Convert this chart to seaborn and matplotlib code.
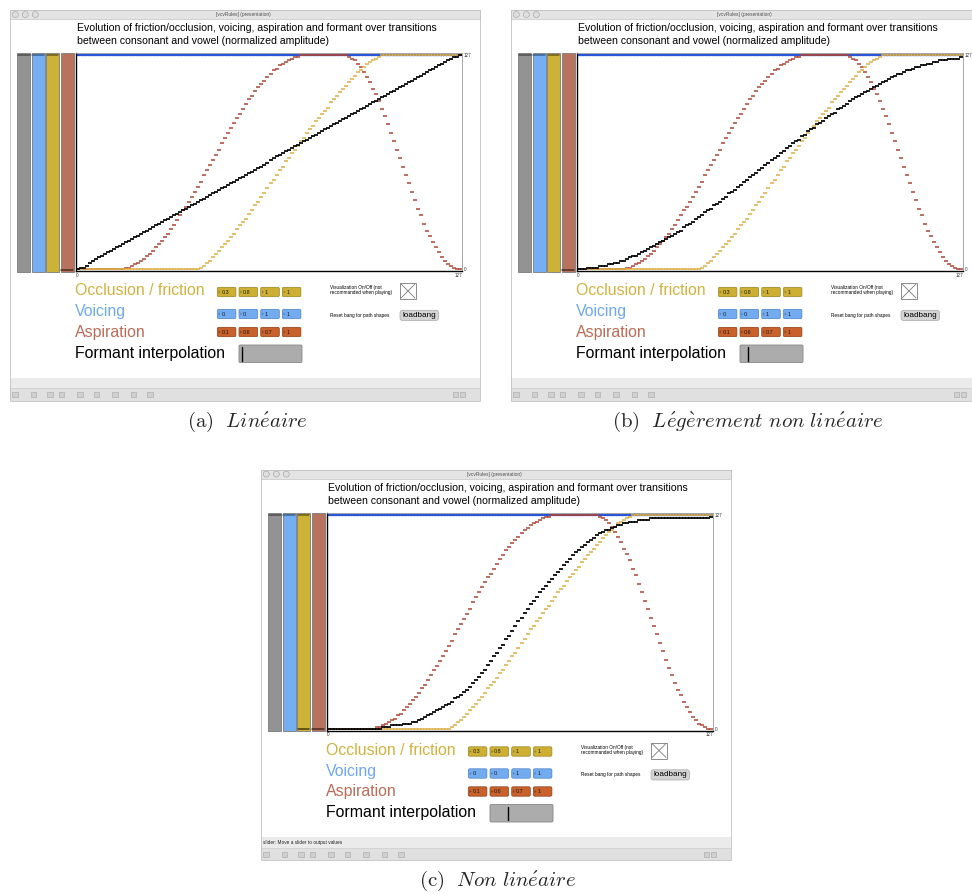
import matplotlib
matplotlib.use("Agg")
import matplotlib.pyplot as plt
from matplotlib.patches import Rectangle, FancyBboxPatch, Circle, Polygon
import pandas as pd
import seaborn as sns

W, H = 972, 894

# multislider index (128 sliders, values 0..127)
STEPS = list(range(128))

OCCLUSION = [
    0, 0, 0, 0, 0, 0, 0, 0, 0, 0, 0, 0, 0, 0, 0, 0,
    0, 0, 0, 0, 0, 0, 0, 0, 0, 0, 0, 0, 0, 0, 0, 0,
    0, 0, 0, 0, 0, 0, 0, 0, 0, 1, 2, 4, 5, 7, 9, 11,
    13, 15, 17, 19, 21, 24, 26, 28, 30, 33, 35, 38, 40, 43, 45, 48,
    51, 53, 56, 59, 61, 64, 66, 69, 71, 73, 76, 78, 81, 83, 85, 88,
    90, 92, 94, 96, 99, 101, 103, 105, 107, 109, 111, 113, 115, 117, 118, 120,
    122, 123, 124, 125, 126, 127, 127, 127, 127, 127, 127, 127, 127, 127, 127, 127,
    127, 127, 127, 127, 127, 127, 127, 127, 127, 127, 127, 127, 127, 127, 127, 127,
]

VOICING = [127] * 128

ASPIRATION = [
    0, 0, 0, 0, 0, 0, 0, 0, 0, 0, 0, 0, 0, 0, 0, 0,
    1, 1, 2, 3, 4, 5, 6, 8, 9, 11, 13, 15, 17, 19, 21, 24,
    26, 29, 32, 35, 37, 40, 43, 46, 49, 52, 56, 59, 62, 65, 68, 71,
    75, 78, 81, 84, 87, 90, 92, 95, 98, 101, 103, 106, 108, 110, 112, 114,
    116, 118, 119, 121, 122, 123, 124, 125, 126, 126, 127, 127, 127, 127, 127, 127,
    127, 127, 127, 127, 127, 127, 127, 127, 127, 127, 126, 125, 124, 122, 120, 117,
    114, 111, 107, 104, 100, 95, 91, 86, 81, 76, 71, 66, 61, 56, 51, 46,
    41, 36, 32, 27, 23, 20, 16, 13, 10, 7, 5, 3, 2, 1, 0, 0,
]

FORMANT_LINEAR = [
    0, 1, 1, 2, 4, 5, 6, 7, 8, 9, 10, 11, 12, 13, 14, 15,
    16, 17, 18, 19, 20, 21, 22, 23, 24, 25, 26, 27, 28, 29, 30, 31,
    32, 33, 34, 35, 36, 37, 38, 39, 40, 41, 42, 43, 44, 45, 46, 47,
    48, 49, 50, 51, 52, 53, 54, 55, 56, 57, 58, 59, 60, 61, 62, 63,
    65, 66, 67, 68, 69, 70, 71, 72, 73, 74, 75, 76, 77, 78, 79, 80,
    81, 82, 83, 84, 85, 86, 87, 88, 89, 90, 91, 92, 93, 94, 95, 96,
    97, 98, 99, 100, 101, 102, 103, 104, 105, 106, 107, 108, 109, 110, 111, 112,
    113, 114, 115, 116, 117, 118, 119, 120, 121, 122, 123, 124, 125, 126, 126, 127,
]

FORMANT_SLIGHT = [
    0, 0, 0, 1, 1, 1, 1, 2, 2, 2, 3, 3, 4, 4, 5, 5,
    6, 7, 8, 8, 9, 10, 11, 12, 13, 14, 15, 16, 17, 18, 19, 20,
    21, 22, 23, 25, 26, 27, 28, 30, 31, 32, 34, 35, 36, 38, 39, 40,
    42, 43, 45, 46, 47, 49, 50, 52, 53, 55, 56, 57, 59, 60, 62, 63,
    65, 66, 67, 69, 70, 72, 73, 75, 76, 77, 79, 80, 82, 83, 84, 86,
    87, 88, 90, 91, 92, 93, 95, 96, 97, 98, 100, 101, 102, 103, 104, 105,
    106, 107, 108, 109, 110, 111, 112, 113, 114, 115, 116, 116, 117, 118, 118, 119,
    120, 120, 121, 121, 122, 122, 123, 123, 124, 124, 124, 125, 125, 125, 125, 126,
]

FORMANT_NONLINEAR = [
    0, 0, 0, 0, 0, 0, 0, 0, 0, 0, 0, 0, 0, 0, 0, 0,
    0, 0, 1, 1, 1, 2, 2, 2, 2, 3, 3, 3, 4, 4, 5, 6,
    7, 8, 9, 10, 11, 12, 13, 14, 15, 16, 18, 19, 20, 22, 23, 25,
    27, 29, 31, 33, 35, 38, 40, 43, 45, 48, 50, 53, 55, 58, 61, 64,
    66, 69, 71, 74, 76, 78, 81, 83, 85, 87, 89, 91, 93, 95, 97, 99,
    101, 103, 105, 106, 108, 109, 111, 112, 113, 115, 116, 117, 118, 118, 119, 120,
    121, 121, 122, 122, 123, 123, 123, 124, 124, 124, 124, 125, 125, 125, 125, 125,
    125, 125, 125, 125, 125, 125, 125, 125, 125, 125, 125, 125, 125, 125, 125, 126,
]

PANEL_TAGS = ["a", "b", "c"]
PANEL_NAMES = ["Linéaire", "Légèrement non linéaire", "Non linéaire"]
FORMANTS = [FORMANT_LINEAR, FORMANT_SLIGHT, FORMANT_NONLINEAR]
FORMANT_SLIDER = [0.04, 0.12, 0.29]

TITLE_1 = "Evolution of friction/occlusion, voicing, aspiration and formant over transitions"
TITLE_2 = "between consonant and vowel (normalized amplitude)"
ROW_LABELS = ["Occlusion / friction", "Voicing", "Aspiration", "Formant interpolation"]
OCC_BOXES = ["0.3", "0.8", "1.", "1."]
VOI_BOXES = ["0.", "0.", "1.", "1."]
ASP_BOXES = ["0.1", "0.6", "0.7", "1."]

# colours
BLUE_LINE = "#2b55d8"
RED_LINE = "#b04434"
YEL_LINE = "#dcae45"
BAR_COLS = ["#939393", "#76aef4", "#ccb236", "#b9725d"]
TXT_COLS = ["#d2b23e", "#6ea9f0", "#bd6b55", "black"]
BOX_COLS = [("#cdb033", "#9a8420"), ("#73abf1", "#4d82c6"), ("#c8612b", "#8d4019")]

sns.set_style("white")
plt.rcParams["font.family"] = ["Liberation Sans", "DejaVu Sans"]
plt.rcParams["mathtext.fontset"] = "cm"

fig = plt.figure(figsize=(W / 100, H / 100), dpi=100)
bg = fig.add_axes([0, 0, 1, 1], zorder=0)
bg.set_xlim(0, W)
bg.set_ylim(H, 0)
bg.axis("off")

# panel offsets in pixels (window chrome is laid out in local coords)
OFFSETS = [(0, 0), (501, 0), (251, 459.5)]


def caption(tag, name):
    word = name.replace("é", r"\acute{e}").replace("è", r"\grave{e}").replace(" ", r"\ ")
    return r"$\mathrm{(" + tag + r")}\ \ \mathit{" + word + "}$"


def draw_window(dx, dy, slider_pos, tag, name, status=None):
    def rect(x0, y0, x1, y1, fc, ec="none", lw=0.5, z=1):
        bg.add_patch(Rectangle((x0 + dx, y0 + dy), x1 - x0, y1 - y0,
                               facecolor=fc, edgecolor=ec, linewidth=lw, zorder=z))

    def rbox(x0, y0, x1, y1, fc, ec, lw=0.5, r=1.5, z=2):
        bg.add_patch(FancyBboxPatch((x0 + dx, y0 + dy), x1 - x0, y1 - y0,
                                    boxstyle=f"round,pad=0,rounding_size={r}",
                                    facecolor=fc, edgecolor=ec, linewidth=lw, zorder=z))

    def txt(x, y, s, size, color="black", **kw):
        bg.text(x + dx, y + dy, s, fontsize=size, color=color, va="center", ha="left", zorder=4, **kw)

    # window body + title bar
    rect(10, 10, 480, 400.5, "white", z=0.5)
    rect(10, 10, 480, 19, "#e4e4e4", "#b8b8b8", 0.4)
    for cx in (15.3, 25.3, 35.3):
        bg.add_patch(Circle((cx + dx, 14.6 + dy), 3, facecolor="#dedede",
                            edgecolor="#a0a0a0", linewidth=0.4, zorder=2))
    bg.text(243 + dx, 14.8 + dy, "[vcvRules] (presentation)", fontsize=3.5,
            color="#505050", ha="center", va="center", zorder=4)

    txt(77, 28.3, TITLE_1, 7.6)
    txt(77, 41, TITLE_2, 7.6)

    # level sliders on the left
    for x0, col in zip((17.3, 31.7, 46, 60.7), BAR_COLS):
        rect(x0, 53.3, x0 + 12.8, 271.7, col, "#7a7a7a", 0.6, z=1)
    for x0, y0, col in ((17.3, 55.2, "#4f4f4f"), (31.7, 55.2, "#3c5f8a"), (46, 55.2, "#6b5b1c"),
                        (60.7, 269.5, "#4a2b21")):
        bg.plot([x0 + dx + 0.6, x0 + dx + 12.2], [y0 + dy, y0 + dy], color=col, lw=1.1, zorder=3)
    if tag == "c":
        bg.plot([46 + dx + 0.6, 46 + dx + 12.2], [269.5 + dy, 269.5 + dy], color="#4a3b10", lw=1.1, zorder=3)

    # control rows
    for lbl, y, col in zip(ROW_LABELS, (290.7, 311.7, 332.3, 353.3), TXT_COLS):
        txt(75, y, lbl, 11.4, col)
    for vals, y0, (fc, ec) in zip((OCC_BOXES, VOI_BOXES, ASP_BOXES), (287.3, 309.3, 327.3), BOX_COLS):
        for x0, v in zip((217.3, 239, 260.7, 282.3), vals):
            rbox(x0, y0, x0 + 18.6, y0 + 9.4, fc, ec)
            bg.add_patch(Polygon([(x0 + dx + 1.3, y0 + dy + 3), (x0 + dx + 1.3, y0 + dy + 6.4),
                                  (x0 + dx + 3.2, y0 + dy + 4.7)], closed=True,
                                 facecolor=ec, edgecolor="none", zorder=3))
            txt(x0 + 4.2, y0 + 4.9, v, 3.9, "#1a1a1a")
    rbox(239, 345, 302, 362.5, "#acacac", "#878787", lw=0.6, r=1.2)
    sx = 239 + 63 * slider_pos
    bg.plot([sx + dx, sx + dx], [347 + dy, 360.5 + dy], color="black", lw=1.0, zorder=3)

    # right widgets
    txt(330, 287.7, "Visualization On/Off (not", 3.4)
    txt(330, 292.7, "recommanded when playing)", 3.4)
    rect(400, 283, 416, 299, "white", "#7a7a7a", 0.6, z=2)
    bg.plot([401 + dx, 415 + dx], [284 + dy, 298 + dy], color="#7a7a7a", lw=0.6, zorder=3)
    bg.plot([401 + dx, 415 + dx], [298 + dy, 284 + dy], color="#7a7a7a", lw=0.6, zorder=3)
    txt(330, 315.3, "Reset bang for path shapes", 3.4)
    rbox(400, 310.3, 438.5, 320.5, "#d4d4d4", "#a9a9a9", r=2.5)
    txt(402, 315.4, "loadbang", 5.9)

    # status / toolbar band
    rect(10, 377.5, 480, 388, "#ebebeb", z=1)
    rect(10, 388, 480, 400.5, "#e0e0e0", z=1)
    bg.plot([10 + dx, 480 + dx], [388 + dy, 388 + dy], color="#cfcfcf", lw=0.5, zorder=2)
    for ix in (15, 33.3, 50, 61.7, 80, 96.7, 115, 133.3, 150, 455.5, 462.5):
        rect(ix - 2.6, 392.2, ix + 2.6, 397.4, "#d0d0d0", "#a6a6a6", 0.4, z=2)
    if status:
        txt(12, 383.2, status, 3.4, "#222222")
    rect(10, 10, 480, 400.5, "none", "#c2c2c2", 0.6, z=3)

    bg.text(247 + dx, 421.5 + dy, caption(tag, name), fontsize=15,
            ha="center", va="center", zorder=4)


def draw_curves(ax, formant):
    df = pd.DataFrame({"step": STEPS, "voicing": VOICING, "aspiration": ASPIRATION,
                       "occlusion": OCCLUSION, "formant": formant})
    for col, color, lw in (("voicing", BLUE_LINE, 1.6), ("aspiration", RED_LINE, 1.1),
                           ("occlusion", YEL_LINE, 1.1), ("formant", "black", 1.25)):
        sns.scatterplot(data=df, x="step", y=col, marker="_", s=4.8, linewidth=lw,
                        color=color, ax=ax, legend=False)
    ax.set_xlim(-0.5, 127.5)
    ax.set_ylim(-1.2, 128.2)
    ax.set(xlabel="", ylabel="")
    ax.set_xticks([-0.5, 127.5], ["0", "127"])
    for lbl, ha in zip(ax.get_xticklabels(), ("left", "right")):
        lbl.set_horizontalalignment(ha)
    ax.yaxis.tick_right()
    ax.set_yticks([0, 127], ["0", "127"])
    ax.tick_params(length=0, labelsize=3.3, colors="#333333", pad=1.2)
    for side in ("left", "bottom"):
        ax.spines[side].set_color("black")
        ax.spines[side].set_linewidth(1.0)
    for side in ("right", "top"):
        ax.spines[side].set_color("#9a9a9a")
        ax.spines[side].set_linewidth(0.6)
    ax.set_facecolor("white")


for (dx, dy), tag, name, formant, pos in zip(OFFSETS, PANEL_TAGS, PANEL_NAMES, FORMANTS, FORMANT_SLIDER):
    status = "slider: Move a slider to output values" if tag == "c" else None
    draw_window(dx, dy, pos, tag, name, status)
    ax = fig.add_axes([(76 + dx) / W, 1 - (271.3 + dy) / H, 386 / W, 218 / H], zorder=2)
    draw_curves(ax, formant)

fig.savefig("out.png", dpi=100)
